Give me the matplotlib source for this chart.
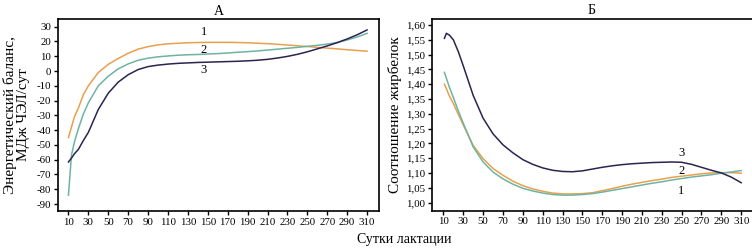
import numpy as np
import matplotlib
matplotlib.use('Agg')
import matplotlib.pyplot as plt

plt.rcParams['font.family'] = ['Liberation Serif', 'DejaVu Serif']
plt.rcParams['axes.unicode_minus'] = False

# Panel A: energy balance, MJ NEL/day
days_a = [10, 13, 16, 20, 25, 30, 40, 50, 60, 70, 80, 90, 100, 110, 120, 130, 140, 150,
          160, 170, 180, 190, 200, 210, 220, 230, 240, 250, 260, 270, 280, 290, 300, 310]
bal_1 = [-45, -38, -31, -25, -16, -10, -1, 4.5, 8.5, 12, 14.8, 16.5, 17.7, 18.4, 18.8, 19.1,
         19.3, 19.4, 19.4, 19.4, 19.3, 19.1, 18.8, 18.5, 18.1, 17.6, 17.1, 16.6, 16.0, 15.5,
         15.0, 14.4, 13.9, 13.4]
bal_2 = [-84, -57, -48, -39, -29, -21.5, -10, -3.5, 1.5, 4.8, 7.3, 8.7, 9.6, 10.2, 10.7, 11,
         11.2, 11.5, 11.8, 12.2, 12.7, 13.1, 13.6, 14.2, 14.8, 15.4, 16.0, 16.7, 17.4, 18.2,
         19.3, 21, 23, 25.5]
bal_3 = [-61.5, -59, -56, -53, -47, -41.5, -26, -15, -7.5, -2.5, 1, 3, 4, 4.7, 5.2, 5.5,
         5.8, 6, 6.2, 6.4, 6.6, 6.9, 7.3, 7.9, 8.8, 9.9, 11.3, 13, 15, 17, 19.2, 21.7, 24.5,
         27.8]

# Panel B: fat/protein ratio
days_b = [11, 13, 16, 20, 25, 30, 40, 50, 60, 70, 80, 90, 100, 110, 120, 130, 140, 150,
          160, 170, 180, 190, 200, 210, 220, 230, 240, 250, 260, 270, 280, 290, 300, 310]
fp_1 = [1.44, 1.42, 1.39, 1.355, 1.31, 1.268, 1.188, 1.137, 1.103, 1.080, 1.062, 1.048,
        1.039, 1.032, 1.027, 1.025, 1.025, 1.027, 1.030, 1.035, 1.041, 1.047, 1.053, 1.059,
        1.065, 1.070, 1.076, 1.081, 1.086, 1.090, 1.094, 1.099, 1.103, 1.108]
fp_2 = [1.40, 1.385, 1.36, 1.335, 1.298, 1.262, 1.193, 1.148, 1.115, 1.092, 1.072, 1.057,
        1.046, 1.038, 1.032, 1.029, 1.029, 1.030, 1.033, 1.040, 1.047, 1.055, 1.062, 1.068,
        1.074, 1.079, 1.085, 1.089, 1.093, 1.097, 1.100, 1.101, 1.101, 1.099]
fp_3 = [1.555, 1.572, 1.566, 1.55, 1.51, 1.462, 1.362, 1.285, 1.232, 1.195, 1.168, 1.145,
        1.129, 1.117, 1.109, 1.105, 1.104, 1.107, 1.113, 1.119, 1.124, 1.128, 1.131, 1.133,
        1.135, 1.136, 1.137, 1.136, 1.129, 1.119, 1.109, 1.100, 1.086, 1.067]

xticks = list(range(10, 311, 20))
yticks_a = list(range(-90, 31, 10))
yticks_b = [1.00, 1.05, 1.10, 1.15, 1.20, 1.25, 1.30, 1.35, 1.40, 1.45, 1.50, 1.55, 1.60]

c1 = '#E9A04E'
c2 = '#6FB3A3'
c3 = '#2A2450'

fig = plt.figure(figsize=(7.52, 2.5), dpi=100)
ax1 = fig.add_axes([58 / 752, 39 / 250, (379 - 58) / 752, 192 / 250])
ax2 = fig.add_axes([432 / 752, 39.5 / 250, (760 - 432) / 752, 192 / 250])

ax1.plot(days_a, bal_1, color=c1, lw=1.1)
ax1.plot(days_a, bal_2, color=c2, lw=1.1)
ax1.plot(days_a, bal_3, color=c3, lw=1.1)
ax1.set_xlim(-0.5, 322)
ax1.set_ylim(-94.7, 35.2)
ax1.set_yticks(yticks_a)
ax1.set_yticklabels([str(v) for v in yticks_a])
ax1.text(146, 26.6, '1', ha='center', va='center', fontsize=9)
ax1.text(146, 14.2, '2', ha='center', va='center', fontsize=9)
ax1.text(146, 0.7, '3', ha='center', va='center', fontsize=9)
ax1.set_title('А', fontsize=10, pad=3)
ax1.set_ylabel('Энергетический баланс,\nМДж ЧЭЛ/сут', fontsize=11, labelpad=5, linespacing=1.0)

ax2.plot(days_b, fp_2, color=c1, lw=1.1)
ax2.plot(days_b, fp_1, color=c2, lw=1.1)
ax2.plot(days_b, fp_3, color=c3, lw=1.1)
ax2.set_xlim(-1.5, 329)
ax2.set_ylim(0.973, 1.622)
ax2.set_yticks(yticks_b)
ax2.set_yticklabels([f'{v:.2f}'.replace('.', ',') for v in yticks_b])
ax2.text(249.5, 1.166, '3', ha='center', va='center', fontsize=9)
ax2.text(249.5, 1.106, '2', ha='center', va='center', fontsize=9)
ax2.text(249.5, 1.039, '1', ha='center', va='center', fontsize=9)
ax2.set_title('Б', fontsize=10, pad=3, x=(592 - 432) / (760 - 432))
ax2.set_ylabel('Соотношение жирбелок', fontsize=11, labelpad=3)
ax2.spines['right'].set_visible(False)

for ax in (ax1, ax2):
    ax.set_xticks(xticks)
    ax.set_xticklabels([str(v) for v in xticks])
    ax.tick_params(direction='out', length=3, width=1, labelsize=7.8, pad=2)
    for s in ax.spines.values():
        s.set_linewidth(1.2)

fig.text(404 / 752, 1 - 240 / 250, 'Сутки лактации', ha='center', va='center', fontsize=10)

fig.savefig('out.png', dpi=100)
